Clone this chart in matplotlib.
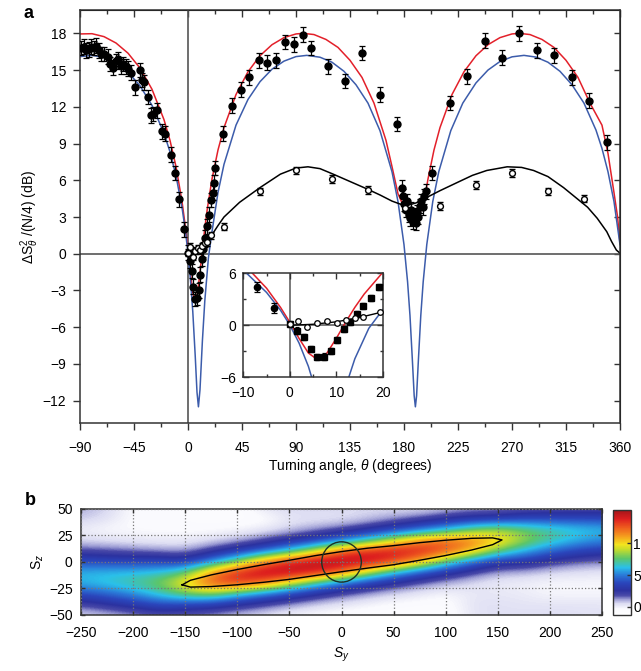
import matplotlib
matplotlib.use("Agg")
import matplotlib.pyplot as plt
import numpy as np
from matplotlib.colors import LinearSegmentedColormap, Normalize
from matplotlib.patches import Circle

plt.rcParams['font.family'] = ['Liberation Sans', 'DejaVu Sans']
plt.rcParams['mathtext.fontset'] = 'custom'
plt.rcParams['mathtext.rm'] = 'Liberation Sans'
plt.rcParams['mathtext.it'] = 'Liberation Sans:italic'
plt.rcParams['font.size'] = 10

# --- panel a: theory curves (turning angle in degrees, noise in dB) ---
red_theta = [-90, -80, -70, -60, -50, -40, -30, -20, -15, -10, -5, -2, 0, 2, 4, 6, 8, 10, 12, 14,
             16, 20, 25, 30, 40, 50, 60, 70, 80, 90, 96, 105, 115, 125, 135, 145, 155, 165, 170, 175,
             180, 184, 187, 190, 194, 197, 200, 205, 210, 220, 230, 240, 250, 260, 270, 276, 285, 295,
             305, 315, 325, 335, 345, 350, 355, 358, 360]
red_db = [17.95, 17.97, 17.73, 17.21, 16.38, 15.16, 13.43, 10.95, 9.26, 7.12, 4.28, 2.07, 0.35, -1.52,
          -3.2, -3.98, -3.2, -1.52, 0.35, 2.07, 3.6, 6.1, 8.47, 10.3, 13.0, 14.86, 16.17, 17.07, 17.65,
          17.95, 18.0, 17.9, 17.5, 16.85, 15.8, 14.4, 12.3, 9.26, 7.12, 4.9, 3.8, 3.1, 2.9, 3.0, 3.5,
          4.4, 6.1, 8.47, 10.3, 13.0, 14.86, 16.17, 17.07, 17.65, 17.95, 18.0, 17.9, 17.5, 16.85, 15.8,
          14.4, 12.3, 10.5, 8.2, 5.0, 3.0, 0.9]

blue_theta = [-90, -80, -70, -60, -50, -40, -30, -20, -15, -10, -5, -2, 0, 2, 4, 6, 7.5, 8.7, 10, 12,
              14, 17, 20, 25, 30, 40, 50, 60, 70, 80, 90, 99, 110, 120, 130, 140, 150, 160, 170, 175,
              180, 183, 185, 187, 188.5, 189.5, 190.5, 192, 194, 196, 199, 204, 209, 219, 229, 240,
              250, 260, 270, 280, 290, 300, 310, 320, 330, 340, 345, 350, 355, 360]
blue_db = [16.1, 16.2, 16.03, 15.59, 14.83, 13.72, 12.12, 9.84, 8.32, 6.37, 3.79, 1.74, 0.04, -2.06,
           -4.74, -8.29, -11.3, -12.5, -11.1, -7.12, -3.86, -0.35, 1.8, 5.0, 7.3, 10.5, 12.6, 14.05,
           15.07, 15.73, 16.1, 16.2, 16.05, 15.64, 14.9, 13.8, 12.3, 10.05, 6.7, 4.27, 0.75, -2.3,
           -5.05, -8.7, -11.6, -12.5, -11.6, -8.7, -5.05, -2.3, 0.75, 4.27, 6.7, 10.05, 12.3, 13.95,
           15.0, 15.7, 16.08, 16.2, 16.06, 15.64, 14.9, 13.8, 12.3, 10.1, 8.6, 6.7, 4.27, 0.75]

black_theta = [0, 5, 10, 15, 20, 25, 30, 43, 60, 77, 90, 100, 110, 121, 135, 149, 160, 170, 177, 183,
               190, 199, 210, 224, 237, 249, 266, 278, 288, 300, 313, 323, 333, 341, 349, 353, 357, 360]
black_db = [0.0, 0.12, 0.4, 0.9, 1.55, 2.3, 3.0, 4.2, 5.4, 6.5, 7.0, 7.1, 6.95, 6.5, 5.9, 5.3, 4.8, 4.3,
            4.05, 3.95, 4.15, 4.6, 5.15, 5.8, 6.4, 6.8, 7.1, 7.05, 6.8, 6.3, 5.4, 4.6, 3.8, 2.9, 1.8,
            1.0, 0.3, 0.05]

# --- panel a: measured points ---
filled_theta = [-89.0, -86.8, -84.7, -82.6, -80.6, -78.5, -76.4, -74.4, -72.2, -70.0, -67.0, -64.6,
                -62.4, -60.4, -58.3, -56.2, -54.2, -51.8, -50.0, -47.5, -44.0, -40.3, -38.4, -36.7,
                -33.2, -30.6, -28.9, -26.0, -21.8, -19.2, -14.3, -10.8, -7.1, -3.4,
                0.1, 1.6, 3.1, 4.5, 5.9, 7.4, 8.8, 10.2, 11.6, 12.9, 14.4, 15.8, 17.4, 19.1,
                21.0, 21.8, 22.6, 29.4, 36.4, 43.9, 51.1, 59.2, 66.1, 73.3, 80.8, 88.3, 95.8, 102.2,
                116.4, 130.8, 145.3, 160.0, 174.4,
                178.0, 179.2, 180.3, 181.5, 182.7, 183.8, 185.0, 186.2, 187.3, 188.5, 189.6, 190.8,
                192.0, 193.2, 194.5, 195.8, 197.0, 198.4,
                203.6, 218.3, 232.8, 247.5, 261.9, 276.1, 290.6, 305.3, 319.7, 334.2, 348.9]
filled_db = [16.8, 16.9, 16.6, 16.7, 16.9, 16.8, 17.0, 16.6, 16.3, 16.3, 16.1, 15.5,
             15.2, 15.7, 15.9, 15.3, 15.5, 15.3, 15.1, 14.8, 13.6, 15.0, 14.2, 14.0,
             12.8, 11.3, 11.4, 11.7, 10.0, 9.8, 8.1, 6.6, 4.45, 2.0,
             0.1, -0.6, -1.4, -2.7, -3.7, -3.6, -3.0, -1.7, -0.4, 0.35, 1.3, 2.25, 3.2, 4.4,
             5.0, 5.8, 7.0, 9.8, 12.1, 13.4, 14.4, 15.8, 15.6, 15.8, 17.3, 17.1, 17.9, 16.8,
             15.3, 14.1, 16.4, 13.0, 10.6,
             5.4, 4.7, 4.1, 3.6, 4.3, 3.2, 2.9, 3.6, 2.6, 3.1, 2.5, 3.4,
             3.0, 3.9, 4.3, 3.8, 4.7, 5.1,
             6.6, 12.3, 14.5, 17.4, 16.0, 18.0, 16.6, 16.2, 14.4, 12.5, 9.1]
filled_err = 0.6

open_theta = [0.0, 1.8, 3.8, 5.9, 8.1, 10.1, 12.0, 14.0, 15.8, 19.4, 30.0, 60.0, 90.0, 120.0, 150.0,
              181.0, 210.0, 240.0, 270.0, 300.0, 330.0]
open_db = [0.1, 0.55, -0.25, 0.25, 0.45, 0.3, 0.6, 0.85, 0.95, 1.5, 2.2, 5.1, 6.8, 6.1, 5.2,
           3.7, 3.9, 5.6, 6.6, 5.1, 4.5]
open_err = 0.3

# --- panel b: Husimi distribution on a coarse grid (rows: Sz from top) ---
q_sx = [-250, -225, -200, -175, -150, -125, -100, -75, -50, -25, 0, 25, 50, 75, 100, 125, 150, 175,
        200, 225, 250]
q_sz = [50, 40, 30, 20, 10, 0, -10, -20, -30, -40, -50]
q_values = [
    [1.0, 0.7, -0.4, -0.4, -0.5, -0.6, -0.7, 0.4, 0.6, 0.6, 0.6, 0.5, 0.4, 0.3, 0.7, 1.0, 1.0, 1.4, 1.5, 1.6, 1.6],
    [0.8, 0.4, -0.4, -0.4, -0.5, -0.6, -0.6, -0.6, 0.3, 0.3, 0.3, 0.7, 1.2, 1.8, 2.4, 3.0, 3.2, 3.8, 3.8, 3.8, 3.8],
    [0.0, -0.3, -0.3, -0.4, -0.4, -0.4, -0.2, 0.2, 0.7, 1.2, 1.8, 2.6, 3.6, 4.7, 6.1, 7.8, 8.7, 7.7, 7.0, 6.5, 6.1],
    [0.5, 0.4, 0.2, 0.1, 0.1, 0.5, 1.0, 1.7, 2.6, 3.6, 4.9, 6.7, 9.1, 11.4, 12.3, 11.8, 10.4, 8.4, 7.0, 6.0, 5.3],
    [1.9, 1.7, 1.5, 1.3, 1.1, 2.1, 3.2, 4.6, 6.5, 9.1, 12.2, 13.7, 14.3, 14.0, 12.8, 10.6, 7.8, 6.0, 4.6, 3.7, 3.2],
    [3.9, 3.7, 3.6, 3.7, 3.1, 5.3, 8.0, 11.6, 13.7, 15.0, 15.3, 14.6, 13.1, 10.8, 7.4, 4.9, 3.1, 3.1, 2.2, 1.7, 1.4],
    [6.0, 6.1, 6.2, 6.4, 7.4, 11.4, 13.8, 14.9, 14.9, 14.0, 12.2, 8.9, 6.3, 4.3, 3.0, 1.9, 1.1, 1.0, 0.6, 0.4, 0.3],
    [6.0, 6.5, 7.1, 8.0, 10.0, 12.7, 13.3, 12.2, 9.5, 6.9, 4.9, 3.5, 2.5, 1.6, 1.0, 0.5, 0.1, 0.0, -0.2, -0.2, -0.2],
    [3.9, 4.6, 5.4, 6.6, 8.0, 8.5, 6.6, 5.1, 3.8, 2.7, 1.8, 1.2, 0.6, 0.2, -0.2, 0.2, 0.2, 0.1, -0.2, -0.2, -0.2],
    [1.9, 2.5, 3.2, 4.0, 3.7, 3.4, 2.6, 1.9, 1.3, 0.7, 0.3, -0.1, -0.4, -0.5, -0.6, 0.4, 0.4, 0.3, 0.3, 0.3, 0.3],
    [0.5, 0.8, 1.1, 1.7, 1.4, 1.2, 0.7, 0.4, -0.1, -0.4, -0.6, -0.7, -0.7, -0.7, -0.7, 0.3, 0.4, 0.4, 0.5, 0.4, 0.3],
]

# squeezed-state contour and coherent-state circle
contour_sx = [-153, -145, -125, -100, -75, -50, -25, 0, 25, 50, 75, 100, 125, 145, 154,
              145, 125, 100, 75, 50, 25, 0, -25, -50, -75, -100, -125, -145, -153]
contour_sz = [-21.6, -17.3, -12.2, -7.1, -2.6, 1.6, 6.0, 9.8, 13.0, 15.4, 18.2, 20.5, 22.3, 22.7, 20.8,
              16.3, 11.3, 6.1, 1.6, -2.6, -5.8, -9.2, -12.8, -16.4, -19.2, -21.5, -23.2, -23.7, -21.6]
coherent_center = (0, 0)
coherent_radius = 19

RED = '#e3202a'
BLUE = '#3c5cab'
AXC = '#333333'

fig = plt.figure(figsize=(6.41, 6.71), dpi=100)

# ---------------- panel a ----------------
ax = fig.add_axes([0.1248, 0.370, 0.8424, 0.615])
ax.axhline(0, color='#555555', lw=1.2, zorder=1)
ax.axvline(0, color='#555555', lw=1.2, zorder=1)
ax.plot(red_theta, red_db, color=RED, lw=1.1, zorder=2)
ax.plot(blue_theta, blue_db, color=BLUE, lw=1.1, zorder=2)
ax.plot(black_theta, black_db, color='k', lw=1.1, zorder=2)
ax.errorbar(filled_theta, filled_db, yerr=filled_err, fmt='o', ms=5, color='k',
            elinewidth=0.9, capsize=2.2, capthick=0.9, zorder=3)
ax.errorbar(open_theta, open_db, yerr=open_err, fmt='o', ms=4.2, mfc='white', mec='k', mew=1.0,
            ecolor='k', elinewidth=0.9, capsize=2.2, capthick=0.9, zorder=4)
ax.set_xlim(-90, 360)
ax.set_ylim(-13.8, 19.9)
xt = np.arange(-90, 361, 45)
xm = np.arange(-67.5, 360, 45)
yt = np.arange(-12, 19, 3)
ax.set_xticks(xt)
ax.set_xticks(xm, minor=True)
ax.set_yticks(yt)
ax.tick_params(which='major', direction='out', length=5, width=1, color=AXC, labelsize=10)
ax.tick_params(which='minor', direction='out', length=3, width=1, color=AXC)
ax.tick_params(axis='x', pad=8)
ax.tick_params(axis='y', pad=5)
for s in ax.spines.values():
    s.set_color(AXC)
    s.set_linewidth(1.1)
secx = ax.secondary_xaxis('top')
secx.set_xticks(xt)
secx.set_xticks(xm, minor=True)
secx.tick_params(which='both', direction='in', labeltop=False, color=AXC, width=1)
secx.tick_params(which='major', length=5)
secx.tick_params(which='minor', length=3)
secy = ax.secondary_yaxis('right')
secy.set_yticks(yt)
secy.tick_params(direction='in', labelright=False, color=AXC, width=1, length=4)
ax.set_xlabel(r'Turning angle, $\theta$ (degrees)', fontsize=10, labelpad=1.5)
ax.set_ylabel(r'$\Delta\mathrm{S}_\theta^2$ /(N/4) (dB)', fontsize=10, labelpad=1)

# inset
axi = fig.add_axes([0.3796, 0.4377, 0.2175, 0.155])
axi.axhline(0, color='#555555', lw=1.1, zorder=1)
axi.axvline(0, color='#555555', lw=1.1, zorder=1)
axi.plot(red_theta, red_db, color=RED, lw=1.1, zorder=2)
axi.plot(blue_theta, blue_db, color=BLUE, lw=1.1, zorder=2)
axi.plot(black_theta, black_db, color='k', lw=1.0, zorder=2)
ft = np.array(filled_theta)
fd = np.array(filled_db)
neg = ft < 0
axi.errorbar(ft[neg], fd[neg], yerr=filled_err, fmt='o', ms=4.5, color='k',
             elinewidth=0.9, capsize=2, capthick=0.9, zorder=3)
axi.errorbar(ft[~neg], fd[~neg], yerr=0.35, fmt='s', ms=4.2, color='k',
             elinewidth=0.9, capsize=1.5, capthick=0.9, zorder=3)
axi.errorbar(open_theta, open_db, yerr=0.2, fmt='o', ms=4, mfc='white', mec='k', mew=0.9,
             ecolor='k', elinewidth=0.8, capsize=1.5, zorder=4)
axi.set_xlim(-10, 20)
axi.set_ylim(-6, 6)
axi.set_xticks([-10, 0, 10, 20])
axi.set_xticks([-5, 5, 15], minor=True)
axi.set_yticks([-6, 0, 6])
axi.set_yticks([-3, 3], minor=True)
axi.tick_params(which='both', direction='in', top=True, right=True, color=AXC, width=1,
                labelsize=10)
axi.tick_params(axis='x', pad=6)
axi.tick_params(axis='y', pad=5)
axi.tick_params(which='major', length=4)
axi.tick_params(which='minor', length=2.5)
for s in axi.spines.values():
    s.set_color(AXC)
    s.set_linewidth(1.1)

fig.text(0.036, 0.973, 'a', fontsize=13, fontweight='bold', va='baseline')

# ---------------- panel b ----------------
q_levels = [-1.25, -0.3, 0.5, 1.2, 1.8, 2.6, 3.8, 5.0, 6.2, 7.6, 9.0, 9.8, 11.0, 12.5, 13.8, 15.2]
q_colors = ['#ffffff', '#fafafe', '#dcdcf2', '#9c9cd4', '#4848a8', '#2c32a0', '#2a46bc', '#2a7ad8',
            '#2ac0ea', '#5cc66a', '#c4dc2c', '#f4e41e', '#f5a21e', '#ee5a1e', '#dd1f1f', '#a31519']
vmin, vmax = q_levels[0], q_levels[-1]
pos = [(v - vmin) / (vmax - vmin) for v in q_levels]
cmap = LinearSegmentedColormap.from_list('husimi', list(zip(pos, q_colors)))
norm = Normalize(vmin=vmin, vmax=vmax)

axb = fig.add_axes([0.1264, 0.0835, 0.8128, 0.158])
dx = (q_sx[1] - q_sx[0]) / 2
dz = (q_sz[0] - q_sz[1]) / 2
im = axb.imshow(np.array(q_values), cmap=cmap, norm=norm, interpolation='bicubic', aspect='auto',
                extent=[q_sx[0] - dx, q_sx[-1] + dx, q_sz[-1] - dz, q_sz[0] + dz], origin='upper',
                zorder=0)
axb.plot(contour_sx, contour_sz, color='k', lw=1.0, zorder=3)
axb.add_patch(Circle(coherent_center, coherent_radius, fill=False, ec='#1c3326', lw=1.0, zorder=3))
axb.set_xlim(-250, 250)
axb.set_ylim(-50, 50)
axb.set_xticks(np.arange(-250, 251, 50))
axb.set_yticks([-50, -25, 0, 25, 50])
axb.grid(True, linestyle=':', color='#777777', lw=0.9)
axb.set_axisbelow(False)
axb.tick_params(direction='in', top=True, right=True, length=3, width=1, color=AXC, labelsize=10)
axb.tick_params(axis='x', pad=8)
axb.tick_params(axis='y', pad=6)
for s in axb.spines.values():
    s.set_color(AXC)
    s.set_linewidth(1.1)
axb.set_ylabel(r'$\mathrm{S}_z$', fontsize=10, labelpad=2)
axb.set_xlabel(r'$S_y$', fontsize=10, labelpad=4)

cax = fig.add_axes([0.9558, 0.0835, 0.0281, 0.1565])
cb = fig.colorbar(im, cax=cax, ticks=[0, 5, 10])
cb.outline.set_edgecolor(AXC)
cb.outline.set_linewidth(1.0)
cax.tick_params(direction='in', length=3, width=1, labelsize=10, pad=2, color=AXC)

fig.text(0.039, 0.2474, 'b', fontsize=13, fontweight='bold', va='baseline')

fig.savefig('out.png', dpi=100)
